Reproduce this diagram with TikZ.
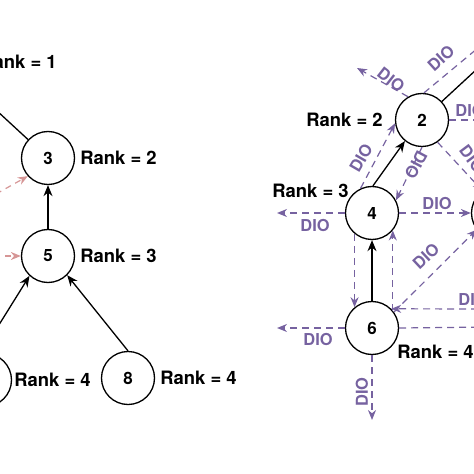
\documentclass[tikz,border=0pt]{standalone}
\usepackage{color}
\usepackage{fontspec}
\setmainfont{TeX Gyre Heros}
\usepackage{tikz}
\usetikzlibrary{shapes,arrows}
\usetikzlibrary{positioning}
\usetikzlibrary{arrows.meta}

\definecolor{dioc}{RGB}{118,98,160}
\definecolor{pinkc}{RGB}{214,150,150}

\tikzset{
	vertex/.style={circle, draw, fill=white, line width=1.3bp, minimum size=53bp, inner sep=0pt, font=\fontsize{17}{20}\selectfont\bfseries},
	rank/.style={inner sep=0pt, font=\fontsize{18.5}{22}\selectfont\bfseries},
	link/.style={draw=black, line width=1.3bp, -{Stealth[length=11bp,width=9bp]}},
	dio/.style={draw=dioc, line width=1.2bp, dash pattern=on 7bp off 5bp, -{Stealth[length=10bp,width=8bp]}},
	diotxt/.style={inner sep=0pt, text=dioc, font=\fontsize{16.5}{20}\selectfont\bfseries},
	hint/.style={draw=pinkc, line width=1.2bp, dash pattern=on 6bp off 5bp, -{Stealth[length=10bp,width=8bp]}}
}

\begin{document}
\begin{tikzpicture}[x=1bp, y=-1bp]
	\useasboundingbox (0,0) rectangle (474,474);
	\clip (0,0) rectangle (474,474);

	\node[vertex] (l1) at (-56,62) {};
	\node[vertex] (l3) at (48,158) {3};
	\node[vertex] (l5) at (48,256) {5};
	\node[vertex] (l4) at (-15,380) {};
	\node[vertex] (l8) at (128,378) {8};

	\node[rank, right=9bp of l1] (k1) {Rank = 1};
	\node[rank, right=5bp of l3] (k3) {Rank = 2};
	\node[rank, right=5bp of l5] (k5) {Rank = 3};
	\node[rank, right=2bp of l4] (k4) {Rank = 4};
	\node[rank, right=5bp of l8] (k8) {Rank = 4};

	\coordinate (pa) at (-4,194);
	\coordinate (pb) at (-6,256);
	\coordinate (pc) at (-8,336);

	\draw[link] (l3) to (l1);
	\draw[link] (l5.north) to (l3.south);
	\draw[link] (pc) to (l5.227);
	\draw[link] (l8.north) to (l5.315);
	\draw[hint] (pa) to (l3.222);
	\draw[hint] (pb) to (l5.west);

	\node[vertex] (r2) at (422,120) {2};
	\node[vertex] (r4) at (372,213) {4};
	\node[vertex] (r6) at (372,328) {6};
	\node[vertex] (r5) at (498,213) {};

	\node[rank, left=12bp of r2] (q2) {Rank = 2};
	\node[rank, left=-4bp of r4, yshift=22bp] (q4) {Rank = 3};
	\node[rank, right=-2bp of r6, yshift=-24bp] (q6) {Rank = 4};

	\coordinate (c1) at (357,68);
	\coordinate (c2) at (490,38);
	\coordinate (c3) at (490,120);
	\coordinate (c4) at (277,213);
	\coordinate (c5) at (277,328);
	\coordinate (c6) at (372,420);
	\coordinate (c7) at (490,309);
	\coordinate (c8) at (490,327);
	\coordinate (c9) at (490,57);

	\draw[link, -] (r2.43) to (c9);
	\draw[link] (r4.88) to (r2.231);
	\draw[link] (r6.north) to (r4.south);

	\draw[dio] (r2.121) to (c1);
	\draw[dio] (r2.86) to (c2);
	\draw[dio] (r2.east) to (c3);
	\draw[dio] (r2.305) to (r5.125);
	\draw[dio] (r4.115) to (r2.187);
	\draw[dio] (r2.270) to (r4.28);
	\draw[dio] (r4.west) to (c4);
	\draw[dio] (r4.east) to (r5.west);
	\draw[dio] (r4.230) to (r6.130);
	\draw[dio] (r6.40) to (r4.320);
	\draw[dio] (r6.west) to (c5);
	\draw[dio] (r6.south) to (c6);
	\draw[dio] (r6.36) to (r5.218);
	\draw[dio] (c7) to (r6.45);
	\draw[dio] (r6.east) to (c8);

	\node[diotxt, rotate=-38] (d1) at (391,80) {DIO};
	\node[diotxt, rotate=42] (d2) at (441,58) {DIO};
	\node[diotxt] (d3) at (470,111) {DIO};
	\node[diotxt, rotate=-53] (d4) at (472,159) {DIO};
	\node[diotxt, rotate=60] (d5) at (361,158) {DIO};
	\node[diotxt, rotate=242] (d6) at (416,165) {DIO};
	\node[diotxt] (d7) at (315,226) {DIO};
	\node[diotxt] (d8) at (437,204) {DIO};
	\node[diotxt] (d9) at (318,340) {DIO};
	\node[diotxt, rotate=90] (d10) at (362,392) {DIO};
	\node[diotxt, rotate=43] (d11) at (426,256) {DIO};
	\node[diotxt] (d12) at (473,300) {DIO};
\end{tikzpicture}
\end{document}
